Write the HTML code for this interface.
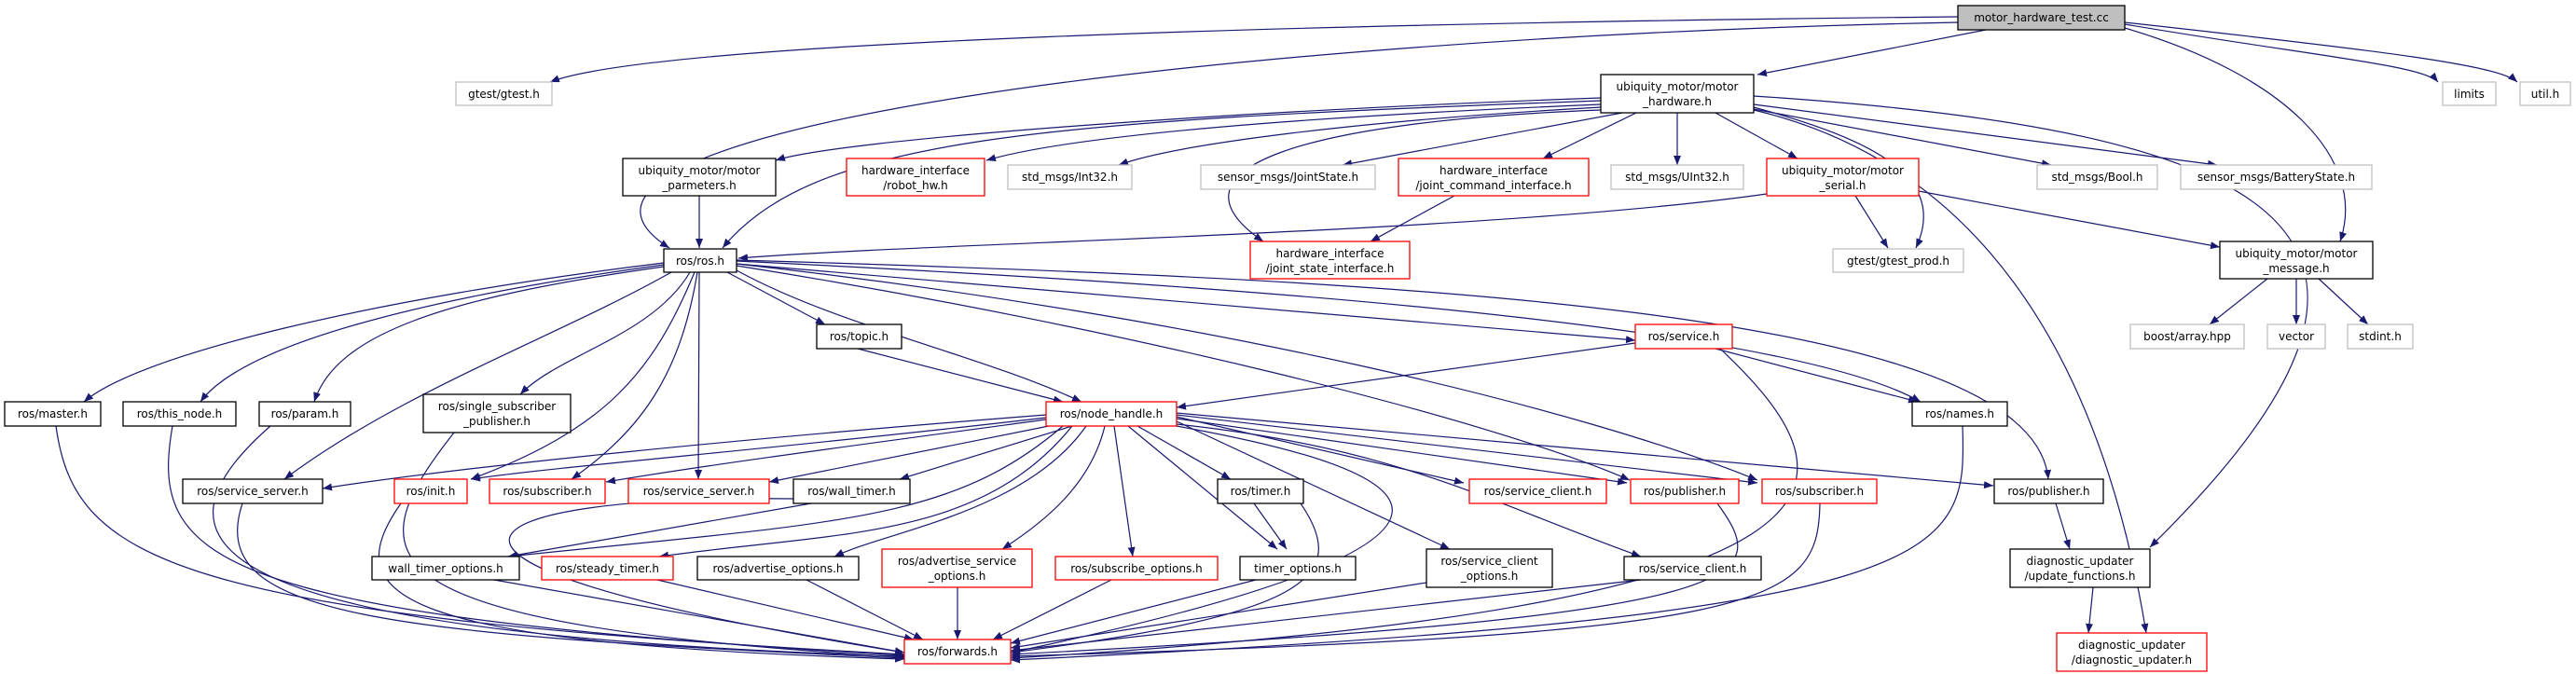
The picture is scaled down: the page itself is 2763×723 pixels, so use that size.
<!DOCTYPE html>
<html><head><meta charset="utf-8"><style>
html,body{margin:0;padding:0;background:#fff;}
svg{display:block;}
text{font-family:"DejaVu Sans","Liberation Sans",sans-serif;font-size:12px;fill:#000;text-anchor:middle;}
.e{fill:none;stroke:#191970;stroke-width:1.2;marker-end:url(#a);}
.k{fill:#fff;stroke:#000;stroke-width:1.3;}
.r{fill:#fff;stroke:#f00;stroke-width:1.3;}
.g{fill:#fff;stroke:#bfbfbf;stroke-width:1.3;}
</style></head><body>
<svg width="2763" height="723" viewBox="0 0 2763 723" xmlns="http://www.w3.org/2000/svg">
<defs><marker id="a" markerUnits="userSpaceOnUse" markerWidth="11" markerHeight="10" refX="10" refY="4" orient="auto"><path d="M0,0 L10,4 L0,8 z" fill="#191970"/></marker></defs>
<g>
<path class="e" d="M2100 18 C1400 25, 700 45, 590 88"/>
<path class="e" d="M2100 24 C1300 40, 520 140, 718 266"/>
<path class="e" d="M2130 32 L1885 80"/>
<path class="e" d="M2279 26 C2480 60, 2600 70, 2615 88"/>
<path class="e" d="M2279 24 C2560 55, 2680 70, 2700 88"/>
<path class="e" d="M2279 30 C2450 80, 2540 170, 2510 259"/>
<path class="e" d="M1717 105 C1300 120, 900 150, 832 172"/>
<path class="e" d="M1717 108 C1100 130, 870 150, 775 266"/>
<path class="e" d="M1717 112 C1400 125, 1150 145, 1058 172"/>
<path class="e" d="M1717 115 C1450 130, 1260 155, 1200 177"/>
<path class="e" d="M1740 121 L1440 177"/>
<path class="e" d="M1717 118 C1400 130, 1240 180, 1355 259"/>
<path class="e" d="M1755 121 L1655 170"/>
<path class="e" d="M1799 121 L1799 177"/>
<path class="e" d="M1840 121 L1928 170"/>
<path class="e" d="M1881 115 C2010 150, 2090 190, 2055 266"/>
<path class="e" d="M1881 118 C2060 160, 2240 300, 2302 679"/>
<path class="e" d="M1881 117 L2200 177"/>
<path class="e" d="M1881 112 L2378 177"/>
<path class="e" d="M1881 103 C2450 140, 2650 250, 2306 587"/>
<path class="e" d="M1560 210 L1470 259"/>
<path class="e" d="M750 210 L750 266"/>
<path class="e" d="M1895 208 C1600 250, 1000 260, 792 277"/>
<path class="e" d="M1990 210 L2025 266"/>
<path class="e" d="M2058 205 L2381 265"/>
<path class="e" d="M2432 299 L2370 348"/>
<path class="e" d="M2463 299 L2463 348"/>
<path class="e" d="M2487 299 L2540 348"/>
<path class="e" d="M712 282 C400 320, 150 380, 90 431"/>
<path class="e" d="M712 284 C450 320, 260 370, 215 431"/>
<path class="e" d="M712 286 C470 320, 360 360, 337 431"/>
<path class="e" d="M740 292 C700 360, 600 380, 558 423"/>
<path class="e" d="M720 292 C600 360, 430 420, 305 514"/>
<path class="e" d="M745 292 C700 400, 650 460, 505 514"/>
<path class="e" d="M748 292 C730 400, 690 460, 613 514"/>
<path class="e" d="M750 292 L749 514"/>
<path class="e" d="M780 292 L885 348"/>
<path class="e" d="M790 290 C900 350, 1050 380, 1160 431"/>
<path class="e" d="M790 283 L1754 365"/>
<path class="e" d="M790 280 C1200 300, 1900 340, 2060 431"/>
<path class="e" d="M790 285 C1200 350, 1600 450, 1748 515"/>
<path class="e" d="M790 283 C1300 340, 1700 440, 1885 515"/>
<path class="e" d="M790 279 C1500 300, 2180 330, 2197 514"/>
<path class="e" d="M920 374 L1140 431"/>
<path class="e" d="M1754 368 L1262 437"/>
<path class="e" d="M1840 374 L2057 431"/>
<path class="e" d="M1845 374 C2000 520, 2030 650, 1084 706"/>
<path class="e" d="M1122 445 C800 470, 500 500, 346 524"/>
<path class="e" d="M1122 448 C850 480, 600 500, 505 514"/>
<path class="e" d="M1122 450 C900 480, 750 500, 650 517"/>
<path class="e" d="M1125 457 L825 517"/>
<path class="e" d="M1150 457 L965 514"/>
<path class="e" d="M1220 457 L1320 514"/>
<path class="e" d="M1140 457 C1020 560, 900 560, 545 597"/>
<path class="e" d="M1150 457 C1050 580, 900 570, 707 597"/>
<path class="e" d="M1165 457 C1100 550, 950 570, 895 597"/>
<path class="e" d="M1185 457 C1170 520, 1120 560, 1075 589"/>
<path class="e" d="M1195 457 L1215 597"/>
<path class="e" d="M1210 457 L1370 589"/>
<path class="e" d="M1262 447 L1570 518"/>
<path class="e" d="M1262 449 L1745 518"/>
<path class="e" d="M1262 445 L1885 518"/>
<path class="e" d="M1262 443 L2138 521"/>
<path class="e" d="M1262 452 L1555 589"/>
<path class="e" d="M1262 455 C1500 480, 1600 540, 1760 597"/>
<path class="e" d="M1262 457 C1500 500, 1700 570, 1084 700"/>
<path class="e" d="M870 540 L545 597"/>
<path class="e" d="M851 535 C500 530, 350 600, 970 700"/>
<path class="e" d="M1345 540 L1380 589"/>
<path class="e" d="M1395 540 C1450 620, 1400 660, 1084 700"/>
<path class="e" d="M2205 540 L2220 589"/>
<path class="e" d="M2245 630 L2240 679"/>
<path class="e" d="M60 457 C80 600, 180 660, 970 702"/>
<path class="e" d="M185 457 C160 600, 220 660, 970 703"/>
<path class="e" d="M290 457 C150 580, 200 680, 970 704"/>
<path class="e" d="M487 464 C380 600, 380 670, 970 705"/>
<path class="e" d="M260 540 C220 660, 400 680, 970 706"/>
<path class="e" d="M430 540 C360 640, 420 690, 970 707"/>
<path class="e" d="M530 622 L970 700"/>
<path class="e" d="M705 622 L980 686"/>
<path class="e" d="M865 622 L990 686"/>
<path class="e" d="M1027 630 L1027 686"/>
<path class="e" d="M1192 622 L1065 686"/>
<path class="e" d="M1347 622 L1084 690"/>
<path class="e" d="M1530 625 L1084 695"/>
<path class="e" d="M1760 622 L1084 698"/>
<path class="e" d="M1842 540 C1900 620, 1900 660, 1084 702"/>
<path class="e" d="M1952 540 C1950 650, 1900 680, 1084 704"/>
<path class="e" d="M2105 457 C2110 600, 2100 660, 1084 708"/>
</g>
<g>
<rect x="2100" y="6" width="179" height="26" fill="#bfbfbf" stroke="#000" stroke-width="1.3"/><text x="2189.5" y="23">motor_hardware_test.cc</text>
<rect class="g" x="489" y="88" width="103" height="25"/><text x="540.5" y="105">gtest/gtest.h</text>
<rect class="k" x="1717" y="80" width="164" height="41"/><text x="1799" y="97">ubiquity_motor/motor</text><text x="1799" y="113">_hardware.h</text>
<rect class="g" x="2620" y="88" width="57" height="25"/><text x="2648.5" y="105">limits</text>
<rect class="g" x="2703" y="88" width="54" height="25"/><text x="2730" y="105">util.h</text>
<rect class="k" x="668" y="170" width="164" height="40"/><text x="750" y="187">ubiquity_motor/motor</text><text x="750" y="203">_parmeters.h</text>
<rect class="r" x="908" y="170" width="148" height="40"/><text x="982" y="187">hardware_interface</text><text x="982" y="203">/robot_hw.h</text>
<rect class="g" x="1081" y="177" width="133" height="26"/><text x="1147.5" y="194">std_msgs/Int32.h</text>
<rect class="g" x="1288" y="177" width="187" height="26"/><text x="1381.5" y="194">sensor_msgs/JointState.h</text>
<rect class="r" x="1500" y="170" width="204" height="40"/><text x="1602" y="187">hardware_interface</text><text x="1602" y="203">/joint_command_interface.h</text>
<rect class="g" x="1728" y="177" width="142" height="26"/><text x="1799" y="194">std_msgs/UInt32.h</text>
<rect class="r" x="1895" y="170" width="163" height="40"/><text x="1976.5" y="187">ubiquity_motor/motor</text><text x="1976.5" y="203">_serial.h</text>
<rect class="g" x="2185" y="177" width="129" height="26"/><text x="2249.5" y="194">std_msgs/Bool.h</text>
<rect class="g" x="2339" y="177" width="205" height="26"/><text x="2441.5" y="194">sensor_msgs/BatteryState.h</text>
<rect class="k" x="712" y="267" width="78" height="25"/><text x="751" y="284">ros/ros.h</text>
<rect class="r" x="1341" y="259" width="171" height="40"/><text x="1426.5" y="276">hardware_interface</text><text x="1426.5" y="292">/joint_state_interface.h</text>
<rect class="g" x="1966" y="267" width="140" height="25"/><text x="2036" y="284">gtest/gtest_prod.h</text>
<rect class="k" x="2381" y="259" width="164" height="40"/><text x="2463" y="276">ubiquity_motor/motor</text><text x="2463" y="292">_message.h</text>
<rect class="k" x="876" y="348" width="91" height="26"/><text x="921.5" y="365">ros/topic.h</text>
<rect class="r" x="1754" y="348" width="104" height="26"/><text x="1806" y="365">ros/service.h</text>
<rect class="g" x="2285" y="348" width="122" height="26"/><text x="2346" y="365">boost/array.hpp</text>
<rect class="g" x="2432" y="348" width="62" height="26"/><text x="2463" y="365">vector</text>
<rect class="g" x="2518" y="348" width="70" height="26"/><text x="2553" y="365">stdint.h</text>
<rect class="k" x="5" y="431" width="103" height="26"/><text x="56.5" y="448">ros/master.h</text>
<rect class="k" x="132" y="431" width="121" height="26"/><text x="192.5" y="448">ros/this_node.h</text>
<rect class="k" x="278" y="431" width="98" height="26"/><text x="327" y="448">ros/param.h</text>
<rect class="k" x="454" y="423" width="158" height="41"/><text x="533" y="440">ros/single_subscriber</text><text x="533" y="456">_publisher.h</text>
<rect class="r" x="1122" y="431" width="140" height="26"/><text x="1192" y="448">ros/node_handle.h</text>
<rect class="k" x="2051" y="431" width="102" height="26"/><text x="2102" y="448">ros/names.h</text>
<rect class="k" x="196" y="514" width="150" height="26"/><text x="271" y="531">ros/service_server.h</text>
<rect class="r" x="423" y="514" width="78" height="26"/><text x="462" y="531">ros/init.h</text>
<rect class="r" x="525" y="514" width="124" height="26"/><text x="587" y="531">ros/subscriber.h</text>
<rect class="r" x="674" y="514" width="151" height="26"/><text x="749.5" y="531">ros/service_server.h</text>
<rect class="k" x="851" y="514" width="125" height="26"/><text x="913.5" y="531">ros/wall_timer.h</text>
<rect class="k" x="1306" y="514" width="92" height="26"/><text x="1352" y="531">ros/timer.h</text>
<rect class="r" x="1576" y="514" width="147" height="26"/><text x="1649.5" y="531">ros/service_client.h</text>
<rect class="r" x="1749" y="514" width="116" height="26"/><text x="1807" y="531">ros/publisher.h</text>
<rect class="r" x="1890" y="514" width="123" height="26"/><text x="1951.5" y="531">ros/subscriber.h</text>
<rect class="k" x="2139" y="514" width="117" height="26"/><text x="2197.5" y="531">ros/publisher.h</text>
<rect class="k" x="399" y="597" width="158" height="25"/><text x="478" y="614">wall_timer_options.h</text>
<rect class="r" x="581" y="597" width="141" height="25"/><text x="651.5" y="614">ros/steady_timer.h</text>
<rect class="k" x="748" y="597" width="173" height="25"/><text x="834.5" y="614">ros/advertise_options.h</text>
<rect class="r" x="946" y="589" width="161" height="41"/><text x="1026.5" y="606">ros/advertise_service</text><text x="1026.5" y="622">_options.h</text>
<rect class="r" x="1132" y="597" width="174" height="25"/><text x="1219" y="614">ros/subscribe_options.h</text>
<rect class="k" x="1330" y="597" width="124" height="25"/><text x="1392" y="614">timer_options.h</text>
<rect class="k" x="1530" y="589" width="135" height="41"/><text x="1597.5" y="606">ros/service_client</text><text x="1597.5" y="622">_options.h</text>
<rect class="k" x="1742" y="597" width="147" height="25"/><text x="1815.5" y="614">ros/service_client.h</text>
<rect class="k" x="2156" y="589" width="150" height="41"/><text x="2231" y="606">diagnostic_updater</text><text x="2231" y="622">/update_functions.h</text>
<rect class="r" x="970" y="686" width="114" height="26"/><text x="1027" y="703">ros/forwards.h</text>
<rect class="r" x="2206" y="679" width="161" height="41"/><text x="2286.5" y="696">diagnostic_updater</text><text x="2286.5" y="712">/diagnostic_updater.h</text>
</g>
</svg>
</body></html>
